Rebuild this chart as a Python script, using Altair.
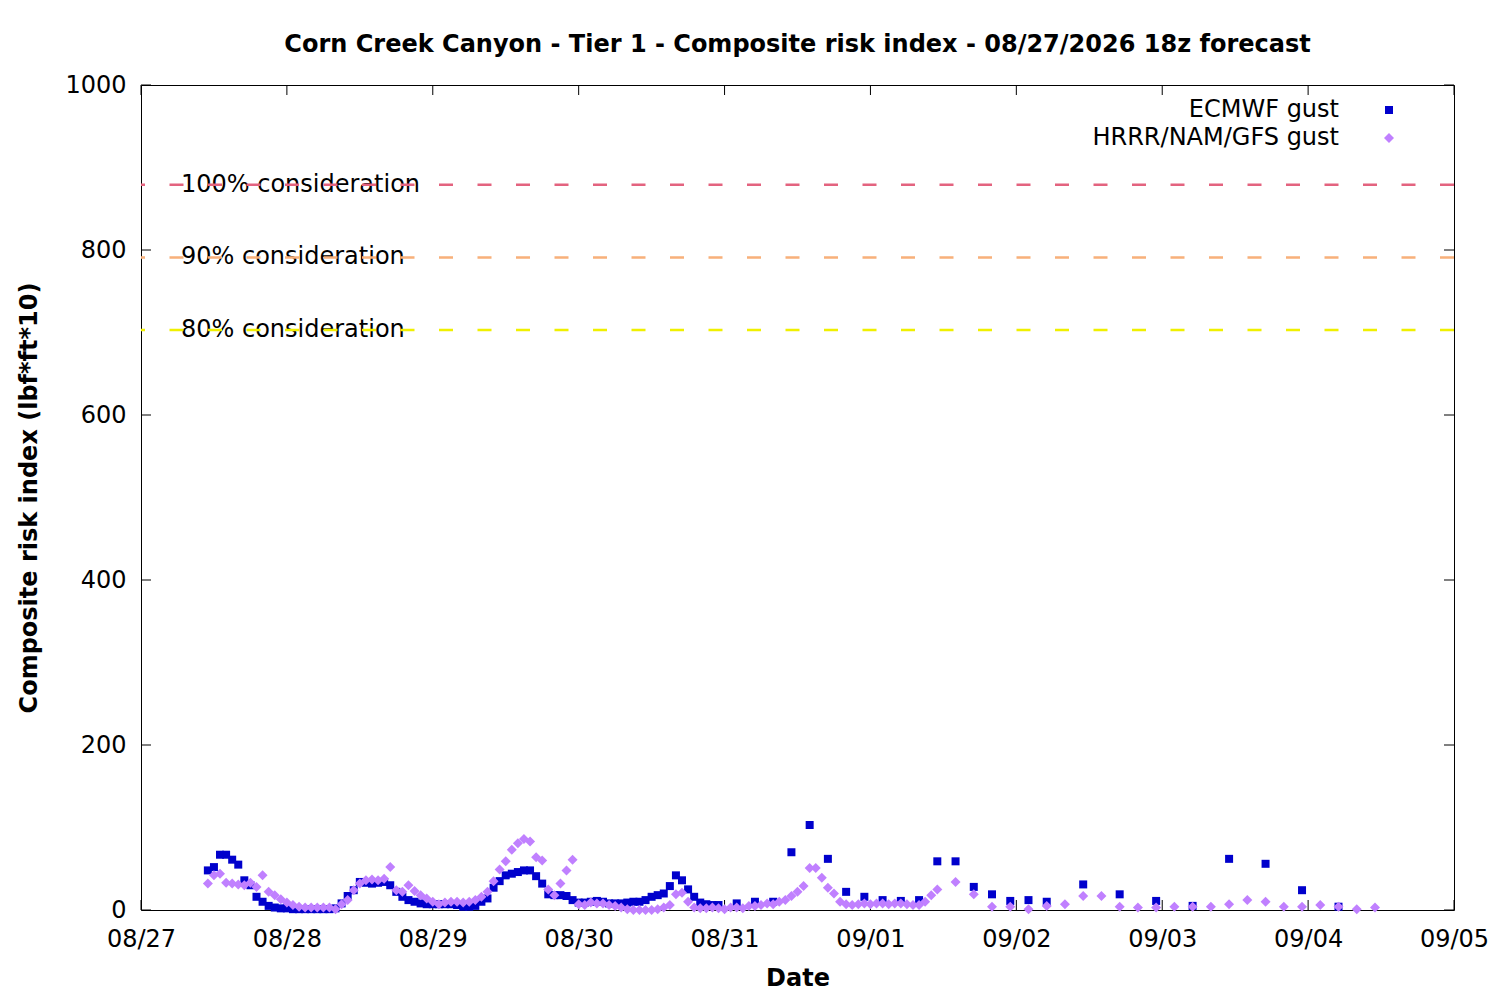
import altair as alt
import pandas as pd

# ---------------- data ----------------
title_text = "Corn Creek Canyon - Tier 1 - Composite risk index - 08/27/2026 18z forecast"
x_title = "Date"
y_title = "Composite risk index (lbf*ft*10)"

series_names = ["ECMWF gust", "HRRR/NAM/GFS gust"]
series_colors = ["#0000cc", "#c080ff"]
series_shapes = ["square", "diamond"]
series_sizes = [64, 100]

# hours after 08/27 00:00 (local)
ecmwf_hours = list(range(11, 96)) + list(range(98, 150, 3)) + list(range(155, 198, 6))
ecmwf_values = [
    48, 52, 67, 67, 61, 55, 36, 30, 16, 10,
    5, 3, 2, 2, 1, 1, 1, 1, 1, 1,
    1, 2, 8, 17, 24, 34, 33, 32, 33, 34,
    30, 22, 16, 12, 10, 8, 7, 7, 7, 7,
    7, 6, 4, 4, 5, 10, 14, 27, 35, 42,
    44, 46, 48, 48, 41, 32, 19, 18, 18, 17,
    12, 9, 9, 10, 11, 10, 8, 8, 8, 9,
    10, 10, 12, 16, 18, 20, 29, 42, 36, 25,
    16, 9, 7, 6, 6,
    8, 10, 10, 70, 103, 62, 22, 16, 12, 11, 12, 59, 59, 28, 19, 11, 12, 10,
    31, 19, 11, 5, 62, 56, 24, 4,
]

hrrr_hours = list(range(11, 132)) + list(range(134, 204, 3))
hrrr_values = [
    32, 42, 44, 33, 32, 31, 30, 33, 28, 42,
    22, 18, 13, 9, 6, 4, 3, 3, 3, 3,
    3, 1, 7, 12, 24, 32, 36, 37, 36, 38,
    52, 24, 22, 30, 23, 18, 14, 10, 7, 9,
    10, 10, 9, 10, 12, 16, 22, 35, 49, 59,
    73, 81, 86, 83, 64, 60, 25, 18, 32, 48,
    61, 7, 6, 9, 8, 8, 6, 5, 3, 1,
    0, 0, 0, 0, 1, 3, 6, 19, 21, 10,
    3, 2, 2, 3, 2, 1, 3, 3, 2, 5,
    5, 6, 8, 7, 10, 12, 17, 22, 29, 51,
    51, 39, 27, 20, 10, 7, 6, 7, 8, 7,
    8, 8, 7, 8, 8, 7, 6, 6, 10, 18,
    25,
    34, 19, 4, 4, 1, 5, 7, 17, 17, 4, 3, 3, 4, 4, 4, 7, 12, 10, 4, 4, 6, 4, 1, 3,
]

threshold_labels = ["100% consideration", "90% consideration", "80% consideration"]
threshold_values = [879, 791, 703]
threshold_colors = ["#e3637f", "#f8b07a", "#f0f000"]

x_tick_days = [(8, 27), (8, 28), (8, 29), (8, 30), (8, 31), (9, 1), (9, 2), (9, 3), (9, 4), (9, 5)]
y_ticks = [0, 200, 400, 600, 800, 1000]

# ---------------- frames ----------------
base = pd.Timestamp("2026-08-27 00:00")
df = pd.concat([
    pd.DataFrame({"time": base + pd.to_timedelta(ecmwf_hours, unit="h"),
                  "value": ecmwf_values, "series": series_names[0]}),
    pd.DataFrame({"time": base + pd.to_timedelta(hrrr_hours, unit="h"),
                  "value": hrrr_values, "series": series_names[1]}),
], ignore_index=True)

df_thr = pd.DataFrame({"label": threshold_labels, "value": threshold_values})
df_xt = pd.DataFrame({"time": [pd.Timestamp(2026, m, d) for m, d in x_tick_days]})
df_yt = pd.DataFrame({"value": y_ticks})

W, H = 1313, 825
FONT = "DejaVu Sans"
FS = 24

x_dom = alt.Scale(domain=[alt.DateTime(year=2026, month=8, date=27),
                          alt.DateTime(year=2026, month=9, date=5)])
y_dom = alt.Scale(domain=[0, 1000])

x_axis = alt.Axis(
    values=[alt.DateTime(year=2026, month=m, date=d) for m, d in x_tick_days],
    format="%m/%d", labelFontSize=FS, labelPadding=17, ticks=False, domain=False,
    grid=False, labelFlush=False, labelOverlap=False, title=x_title,
    titleFontSize=FS, titleFontWeight="bold", titleY=75, titleBaseline="alphabetic",
)
y_axis = alt.Axis(
    values=y_ticks, format="d", labelFontSize=FS, labelPadding=15, ticks=False,
    domain=False, grid=False, labelFlush=False, labelOverlap=False, title=y_title,
    titleFontSize=FS, titleFontWeight="bold", titleX=-105, titleY=H / 2,
    titleBaseline="alphabetic",
)

points = alt.Chart(df).mark_point(filled=True, opacity=1, strokeWidth=0).encode(
    x=alt.X("time:T", scale=x_dom, axis=x_axis),
    y=alt.Y("value:Q", scale=y_dom, axis=y_axis),
    color=alt.Color("series:N", scale=alt.Scale(domain=series_names, range=series_colors),
                    legend=alt.Legend(title=None, orient="none", legendX=1236, legendY=13,
                                      labelAlign="right", labelOffset={"expr": "-62"},
                                      labelFontSize=FS, labelLimit=500, rowPadding=4,
                                      padding=0, symbolStrokeWidth=0, labelColor="black")),
    shape=alt.Shape("series:N", scale=alt.Scale(domain=series_names, range=series_shapes)),
    size=alt.Size("series:O", scale=alt.Scale(domain=series_names, range=series_sizes)),
)

thr_text = alt.Chart(df_thr).mark_text(align="left", baseline="middle", fontSize=FS,
                                        color="black").encode(
    x=alt.value(40), y=alt.Y("value:Q", scale=y_dom), text="label:N")

thr_rules = alt.Chart(df_thr).mark_rule(strokeDash=[14, 24.5], strokeWidth=2.5).encode(
    y=alt.Y("value:Q", scale=y_dom),
    stroke=alt.Stroke("label:N", scale=alt.Scale(domain=threshold_labels, range=threshold_colors),
                      legend=None),
)

tick_style = dict(color="black", strokeWidth=1)
bottom_ticks = alt.Chart(df_xt).mark_rule(**tick_style).encode(
    x=alt.X("time:T", scale=x_dom), y=alt.value(H), y2=alt.value(H - 10))
top_ticks = alt.Chart(df_xt).mark_rule(**tick_style).encode(
    x=alt.X("time:T", scale=x_dom), y=alt.value(0), y2=alt.value(10))
left_ticks = alt.Chart(df_yt).mark_rule(**tick_style).encode(
    y=alt.Y("value:Q", scale=y_dom), x=alt.value(0), x2=alt.value(10))
right_ticks = alt.Chart(df_yt).mark_rule(**tick_style).encode(
    y=alt.Y("value:Q", scale=y_dom), x=alt.value(W - 10), x2=alt.value(W))

chart = alt.layer(
    thr_text, thr_rules, bottom_ticks, top_ticks, left_ticks, right_ticks, points
).properties(
    width=W, height=H,
    title=alt.TitleParams(title_text, fontSize=FS, fontWeight="bold", anchor="middle",
                          offset=16, color="black"),
    autosize=alt.AutoSizeParams(type="none"),
    padding={"left": 133, "top": 77, "right": 36, "bottom": 82},
).configure(font=FONT).configure_view(stroke="black", strokeWidth=1).configure_axis(
    labelColor="black", titleColor="black", labelFont=FONT, titleFont=FONT
).configure_legend(labelFont=FONT)

chart.save("out.html", embed_options={"renderer": "svg", "actions": False})
